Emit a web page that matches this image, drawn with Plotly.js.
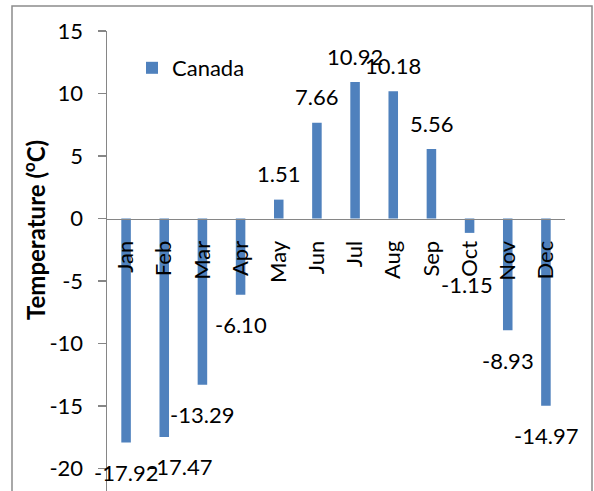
<!DOCTYPE html>
<html>
<head>
<meta charset="utf-8">
<script src="https://cdn.plot.ly/plotly-3.0.1.min.js"></script>
<style>html,body{margin:0;padding:0;background:#fff;}#chart{width:594px;height:491px;}</style>
</head>
<body>
<div id="chart"></div>
<script>
// ---- data ----
const months = ["Jan","Feb","Mar","Apr","May","Jun","Jul","Aug","Sep","Oct","Nov","Dec"];
const canada = [-17.92,-17.47,-13.29,-6.10,1.51,7.66,10.92,10.18,5.56,-1.15,-8.93,-14.97];
const seriesName = "Canada";
const yTicks = [-20,-15,-10,-5,0,5,10,15];

// ---- layout geometry ----
const W = 594, H = 491;
const M = {l:107, r:29, t:31, b:0};
const yRange = [-21.8, 15];
const plotW = W - M.l - M.r, plotH = H - M.t - M.b;
const zeroFrac = (0 - yRange[0]) / (yRange[1] - yRange[0]);
const FONT = "Lato, 'Open Sans', sans-serif";
const GRAY = "#868686";

// label nudges (pixels) for a couple of hand-placed Excel labels
const labelNudge = {Feb:{x:16, y:0}, Oct:{x:-3, y:-22}};

const labelAnns = months.map((m, i) => {
  const v = canada[i];
  const n = labelNudge[m] || {x:0, y:0};
  return {
    x: m, y: v, xref: "x", yref: "y",
    text: v.toFixed(2), showarrow: false,
    xanchor: "center", yanchor: "middle",
    yshift: (v >= 0 ? 26 : -30) + n.y, xshift: n.x,
    font: {family: FONT, size: 22, color: "#000"}
  };
});

const trace = {
  type: "bar", x: months, y: canada, name: seriesName,
  marker: {color: "#4F81BD"}, width: 0.25, showlegend: true
};

const layout = {
  width: W, height: H,
  margin: M,
  paper_bgcolor: "#fff", plot_bgcolor: "rgba(0,0,0,0)",
  font: {family: FONT, size: 22, color: "#000"},
  showlegend: true,
  legend: {
    x: (132 - M.l) / plotW, y: (H - M.b - 68) / plotH,
    xanchor: "left", yanchor: "middle",
    bgcolor: "rgba(0,0,0,0)", borderwidth: 0,
    font: {family: FONT, size: 22, color: "#000"}
  },
  xaxis: {
    type: "category", range: [-0.5, months.length - 0.5], autorange: false,
    anchor: "free", position: zeroFrac,
    showline: true, linecolor: GRAY, linewidth: 1.5,
    ticks: "", tickangle: -90, showgrid: false, zeroline: false,
    tickfont: {family: FONT, size: 22, color: "#000"},
    ticklabelstandoff: 12
  },
  yaxis: {
    range: yRange, autorange: false, tickvals: yTicks, ticktext: yTicks.map(String),
    showline: true, linecolor: GRAY, linewidth: 1.5,
    ticks: "outside", ticklen: 8, tickcolor: GRAY, tickwidth: 1.5,
    showgrid: false, zeroline: false,
    tickfont: {family: FONT, size: 22, color: "#000"},
    ticklabelstandoff: 10
  },
  annotations: labelAnns.concat([{
    xref: "paper", yref: "paper",
    x: (34 - M.l) / plotW, y: (H - M.b - 230) / plotH,
    text: "<b>Temperature (<sup>o</sup>C)</b>", textangle: -90,
    showarrow: false, xanchor: "center", yanchor: "middle",
    font: {family: FONT, size: 24, color: "#000", weight: "bold"}
  }]),
  shapes: [{
    type: "rect", xref: "paper", yref: "paper",
    x0: (12 - M.l) / plotW, x1: (592 - M.l) / plotW,
    y0: -0.2, y1: (H - M.b - 6) / plotH,
    line: {color: "#8c8c8c", width: 1.5}, fillcolor: "rgba(0,0,0,0)", layer: "below"
  }]
};

Plotly.newPlot("chart", [trace], layout, {staticPlot: true, displayModeBar: false});
</script>
</body>
</html>
